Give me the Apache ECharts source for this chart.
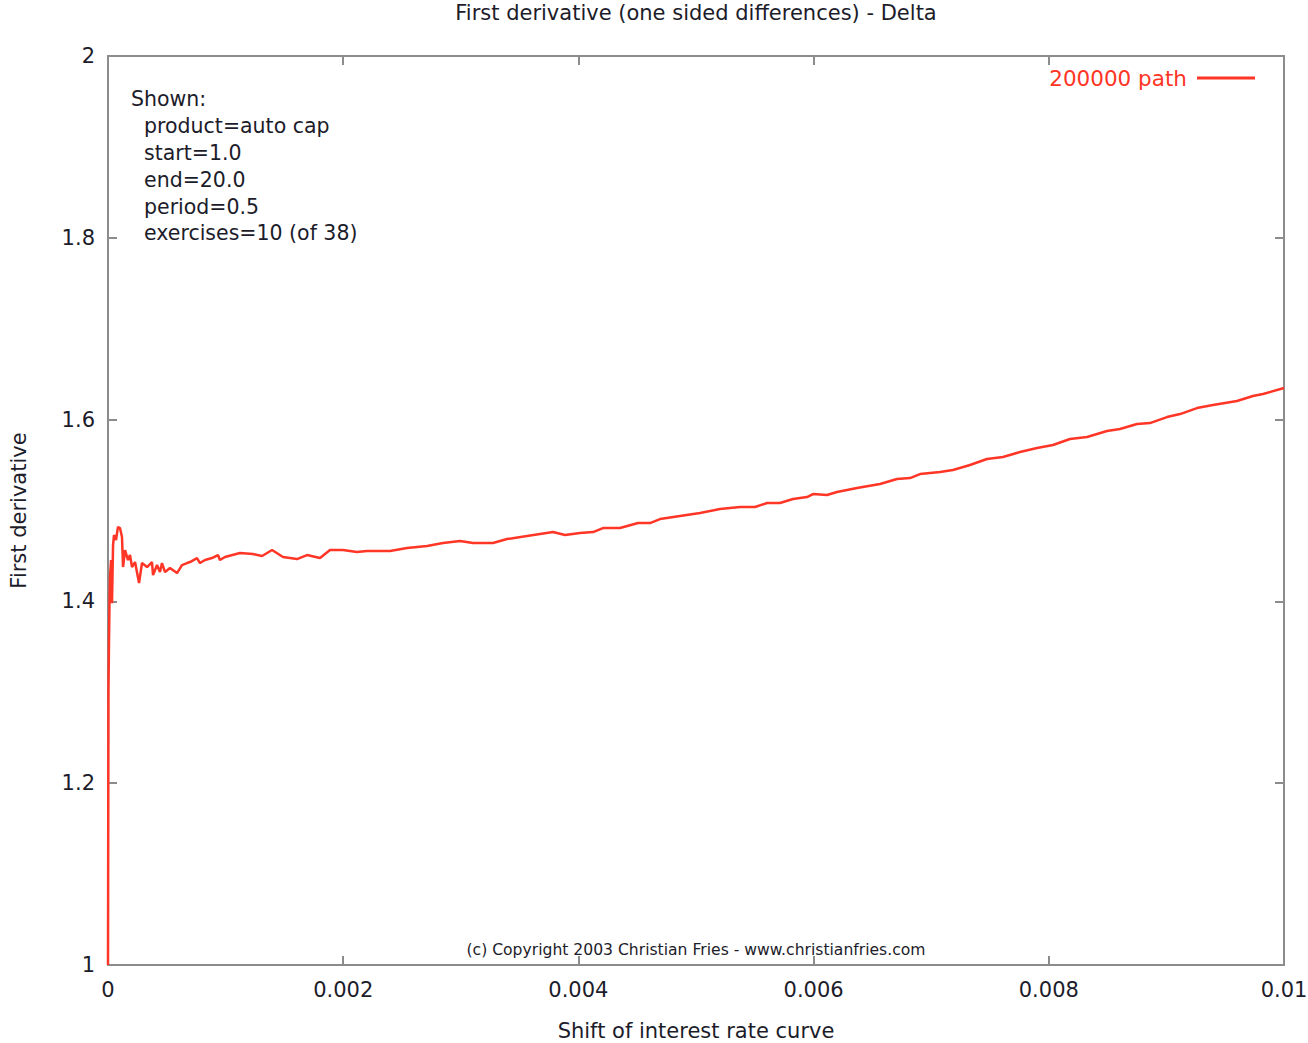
<!DOCTYPE html>
<html>
<head>
<meta charset="utf-8">
<script src="https://cdn.jsdelivr.net/npm/echarts@6/dist/echarts.min.js"></script>
<style>html,body{margin:0;padding:0;background:#fff}#c{width:1308px;height:1043px}</style>
</head>
<body>
<div id="c"></div>
<script>
const xValues = [0,0.000004,0.0000085,0.000013,0.000017,0.000026,0.000034,0.000043,0.000051,0.000068,0.000085,0.000102,0.000119,0.000128,0.000145,0.00017,0.000187,0.000204,0.00023,0.000264,0.000289,0.000332,0.000374,0.000383,0.000417,0.000442,0.000459,0.000485,0.000527,0.000587,0.000629,0.000672,0.000697,0.000757,0.000782,0.000825,0.000884,0.000935,0.000952,0.000995,0.001122,0.001233,0.00131,0.001395,0.001488,0.001607,0.001692,0.001803,0.001888,0.001998,0.002117,0.002202,0.002398,0.002543,0.002713,0.002849,0.002993,0.003104,0.003274,0.003393,0.003563,0.003784,0.003886,0.004014,0.004124,0.004209,0.004354,0.004507,0.004609,0.004694,0.004864,0.005034,0.005204,0.005374,0.005502,0.005604,0.005714,0.005825,0.005944,0.005995,0.006114,0.006199,0.006369,0.006565,0.006709,0.00682,0.006905,0.007075,0.007185,0.00733,0.007474,0.00761,0.007755,0.0079,0.008036,0.00818,0.008325,0.008495,0.008605,0.00875,0.00886,0.009005,0.009116,0.00926,0.009396,0.0096,0.009736,0.009821,0.01];
const deltaValues = [1.0,1.3025,1.3575,1.4015,1.4268,1.4455,1.398,1.462,1.473,1.4675,1.4818,1.4807,1.4708,1.4378,1.4565,1.4455,1.451,1.4378,1.4433,1.4202,1.4422,1.4378,1.4433,1.429,1.44,1.4323,1.4422,1.4323,1.4367,1.4312,1.44,1.4422,1.4433,1.4477,1.4422,1.4455,1.4477,1.451,1.4455,1.4488,1.4532,1.4521,1.4499,1.4565,1.4488,1.4466,1.451,1.4477,1.4565,1.4565,1.4543,1.4554,1.4554,1.4587,1.4609,1.4642,1.4664,1.4642,1.4642,1.4686,1.4719,1.4763,1.473,1.4752,1.4763,1.4807,1.4807,1.4862,1.4862,1.4906,1.4939,1.4972,1.5016,1.5038,1.5038,1.5082,1.5082,1.5126,1.5148,1.5181,1.517,1.5203,1.5247,1.5291,1.5346,1.5357,1.5401,1.5423,1.5445,1.55,1.5566,1.5588,1.5643,1.5687,1.572,1.5786,1.5808,1.5874,1.5896,1.5951,1.5962,1.6028,1.6061,1.6127,1.616,1.6204,1.6259,1.6281,1.6347];
const seriesName = '200000 path';
const infoLines = ['Shown:', '  product=auto cap', '  start=1.0', '  end=20.0', '  period=0.5', '  exercises=10 (of 38)'];

const chart = echarts.init(document.getElementById('c'), null, {renderer: 'svg'});
const FONT = 'DejaVu Sans';
const axisCol = '#8c8c8c';
const txtCol = '#1c1c2a';
const red = '#ff3526';
const data = xValues.map((x, i) => [x, deltaValues[i]]);
const plotCenter = (108 + 1284) / 2;

const commonAxis = {
  axisLine: {show: true, onZero: false, lineStyle: {color: axisCol, width: 2}},
  axisTick: {show: true, inside: true, length: 9, lineStyle: {color: axisCol, width: 2}},
  splitLine: {show: false}
};

chart.setOption({
  animation: false,
  backgroundColor: '#fff',
  legend: {
    right: 48, top: 62, align: 'right',
    icon: 'rect', itemWidth: 58, itemHeight: 3, itemGap: 10,
    textStyle: {fontFamily: FONT, fontSize: 21.5, color: red, padding: [0, 5, 0, 0]},
    data: [seriesName]
  },
  grid: {left: 108, right: 24, top: 56, bottom: 78, containLabel: false, outerBoundsMode: 'none'},
  xAxis: [
    Object.assign({}, commonAxis, {
      type: 'value', min: 0, max: 0.01, interval: 0.002, position: 'bottom',
      name: 'Shift of interest rate curve', nameLocation: 'middle', nameGap: 55,
      nameTextStyle: {fontFamily: FONT, fontSize: 21, color: txtCol},
      axisLabel: {fontFamily: FONT, fontSize: 21, color: txtCol, margin: 14}
    }),
    Object.assign({}, commonAxis, {
      type: 'value', min: 0, max: 0.01, interval: 0.002, position: 'top',
      axisLabel: {show: false}
    })
  ],
  yAxis: [
    Object.assign({}, commonAxis, {
      type: 'value', min: 1, max: 2, interval: 0.2, position: 'left',
      name: 'First derivative', nameLocation: 'middle', nameGap: 79, nameRotate: 90,
      nameTextStyle: {fontFamily: FONT, fontSize: 21, color: txtCol},
      axisLabel: {fontFamily: FONT, fontSize: 21, color: txtCol, margin: 13}
    }),
    Object.assign({}, commonAxis, {
      type: 'value', min: 1, max: 2, interval: 0.2, position: 'right',
      axisLabel: {show: false}
    })
  ],
  graphic: [
    {
      type: 'text', x: plotCenter, y: 2,
      style: {
        text: 'First derivative (one sided differences) - Delta',
        fontFamily: FONT, fontSize: 21, fill: txtCol, align: 'center', verticalAlign: 'top'
      }
    },
    {
      type: 'text', left: 131, top: 86,
      style: {
        text: infoLines.join('\n'), fontFamily: FONT, fontSize: 20.5, lineHeight: 26.8,
        fill: txtCol
      }
    },
    {
      type: 'text', x: plotCenter, y: 942,
      style: {
        text: '(c) Copyright 2003 Christian Fries - www.christianfries.com',
        fontFamily: FONT, fontSize: 15.6, fill: txtCol, align: 'center', verticalAlign: 'top'
      }
    }
  ],
  series: [{
    name: seriesName, type: 'line', data: data,
    xAxisIndex: 0, yAxisIndex: 0,
    showSymbol: false, symbol: 'none', smooth: false,
    lineStyle: {color: red, width: 2.5},
    itemStyle: {color: red}
  }]
});
</script>
</body>
</html>
